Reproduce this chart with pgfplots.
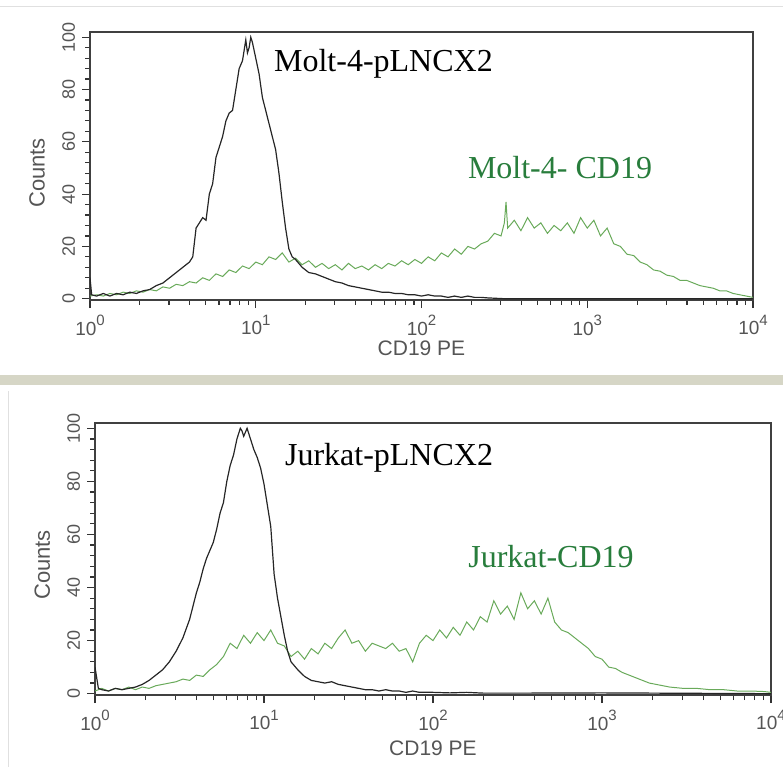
\documentclass[border=0pt]{standalone}
\usepackage{fontspec}
\setmainfont{Liberation Serif}
\setsansfont{Liberation Sans}
\usepackage{pgfplots}
\usepackage{pgfplotstable}
\pgfplotsset{compat=1.18}

\definecolor{curvegreen}{RGB}{105,170,90}
\definecolor{labelgreen}{RGB}{40,125,60}
\definecolor{ticktext}{RGB}{85,85,85}
\definecolor{band}{RGB}{214,214,198}

\newcommand{\dec}[1]{10\raisebox{0.5em}{\fontsize{7.5}{8}\selectfont #1}}

% e = log10 of CD19 PE, c = counts
\pgfplotstableread{
e c
0.00 8
0.01 1.5
0.04 1
0.08 2
0.12 1
0.16 2
0.20 1.5
0.24 2.5
0.28 2
0.32 3
0.36 3.5
0.40 5
0.44 6
0.48 8
0.52 10
0.56 12
0.60 14
0.62 16
0.64 27
0.66 29
0.68 31
0.70 30
0.72 40
0.74 44
0.76 54
0.78 58
0.80 62
0.82 68
0.84 71
0.86 72
0.88 80
0.90 88
0.92 91
0.94 99
0.95 94
0.96 96
0.97 100
0.98 98
1.00 92
1.02 86
1.04 77
1.06 72
1.08 67
1.10 62
1.12 57
1.14 48
1.16 37
1.18 27
1.20 19
1.22 16
1.24 15
1.28 12
1.32 10
1.36 9.5
1.40 8.5
1.44 7.5
1.48 6.5
1.52 6
1.56 5
1.60 4.5
1.64 4
1.68 3.5
1.72 3
1.76 2.5
1.80 2.5
1.84 2
1.88 2
1.92 1.5
1.96 1.5
2.00 1
2.04 1.5
2.08 1
2.12 1
2.16 0.5
2.20 1
2.24 0.5
2.28 1
2.32 0.5
2.36 0.5
2.40 0.3
2.50 0
4.00 0
}\moltctrl

\pgfplotstableread{
e c
0.00 1
0.04 1.5
0.08 1
0.12 2
0.16 1.5
0.20 2.5
0.24 2
0.28 3
0.32 2.5
0.36 3.5
0.40 3
0.44 4.5
0.48 4
0.52 5.5
0.56 5
0.60 6.5
0.64 6
0.68 8
0.72 7
0.76 9.5
0.80 8.5
0.84 11
0.88 10
0.92 12.5
0.96 11.5
1.00 14
1.04 13
1.08 16
1.12 15
1.16 17.5
1.20 14
1.24 15.5
1.28 13
1.32 14.5
1.36 12
1.40 13.5
1.44 11.5
1.48 13
1.52 11
1.56 13.5
1.60 11.5
1.64 12.5
1.68 11
1.72 13
1.76 11.5
1.80 13.5
1.84 12.5
1.88 14.5
1.92 13
1.96 15
2.00 13.5
2.04 16
2.08 14.5
2.12 17.5
2.16 16
2.20 19
2.24 17
2.28 20
2.32 19
2.36 21
2.40 22
2.44 25
2.48 24
2.50 29
2.51 37
2.52 27
2.56 30
2.60 26
2.64 31
2.68 27
2.72 29
2.76 25
2.80 28
2.84 26
2.88 29
2.92 25
2.96 31
3.00 27
3.04 30
3.08 24
3.12 27
3.16 21
3.20 20
3.24 17
3.28 16.5
3.32 14
3.36 13
3.40 11
3.44 10.5
3.48 9
3.52 8.5
3.56 7
3.60 7
3.64 6
3.68 5
3.72 4.5
3.76 4
3.80 3
3.84 3
3.88 2
3.92 1.5
3.96 1
4.00 0.5
}\moltcd

\pgfplotstableread{
e c
0.00 10
0.02 2
0.04 1.5
0.08 1
0.12 2
0.16 1.5
0.20 2
0.24 2.5
0.28 3.5
0.32 5
0.36 7
0.40 9
0.44 12
0.48 16
0.52 21
0.56 28
0.58 33
0.60 38
0.62 42
0.64 47
0.66 51
0.68 54
0.70 57
0.72 62
0.74 68
0.76 72
0.78 80
0.80 86
0.82 90
0.84 96
0.86 100
0.87 99
0.88 97
0.90 100
0.92 96
0.94 92
0.96 89
0.98 85
1.00 79
1.02 71
1.04 63
1.06 45
1.08 36
1.10 29
1.12 22
1.14 16
1.16 12
1.20 9
1.24 6.5
1.28 5
1.32 4.5
1.36 4
1.40 4.5
1.44 3.5
1.48 3
1.52 2.5
1.56 2
1.60 1.5
1.64 1.5
1.68 1
1.72 1.5
1.76 1
1.80 1
1.84 0.5
1.88 1
1.92 0.5
2.00 0.5
2.10 0.3
2.20 0.5
2.30 0.2
2.50 0.2
3.00 0.3
4.00 0
}\jurkctrl

\pgfplotstableread{
e c
0.00 1
0.04 2
0.08 1
0.12 2
0.16 1.5
0.20 2.5
0.24 1.5
0.28 2.5
0.32 2
0.36 3
0.40 3.5
0.44 4
0.48 4.5
0.52 5.5
0.56 5
0.60 7
0.64 6.5
0.68 9
0.72 11
0.76 14
0.80 19
0.84 17
0.88 22
0.92 19
0.96 23
1.00 20
1.04 24
1.08 19
1.12 18
1.16 14
1.20 16
1.24 13
1.28 17
1.32 15
1.36 19
1.40 17
1.44 21
1.48 24
1.52 19
1.56 20
1.60 16
1.64 19
1.68 18
1.72 17
1.76 19
1.80 16
1.84 17
1.88 12
1.92 19
1.96 22
2.00 20
2.04 24
2.08 21
2.12 25
2.16 22
2.20 27
2.24 24
2.28 29
2.32 27
2.36 35
2.40 30
2.44 33
2.48 28
2.52 38
2.56 32
2.60 35
2.64 30
2.68 36
2.72 27
2.76 24
2.80 23
2.84 21
2.88 19
2.92 17
2.96 14
3.00 13
3.04 10
3.08 9.5
3.12 8
3.16 7
3.20 6
3.24 5
3.28 4
3.32 3.5
3.36 3
3.40 2.5
3.48 2
3.56 2
3.64 1.5
3.72 1.5
3.80 1
3.88 1
3.96 0.8
4.00 0.5
}\jurkcd

\tikzset{
  ctrl/.style={black!85, line width=0.6pt},
  cdplot/.style={curvegreen, line width=0.5pt},
}

\begin{document}
\begin{tikzpicture}
\path[use as bounding box] (0,0) rectangle (391.5pt,383.5pt);
\fill[band] (0,191pt) rectangle (391.5pt,196pt);
\draw[black!12, line width=0.5pt] (0,380pt) -- (391.5pt,380pt);
\draw[black!12, line width=0.5pt] (4pt,0) -- (4pt,188pt);

\begin{axis}[
  at={(45pt,233.5pt)}, anchor=south west,
  width=331.5pt, height=134pt,
  scale only axis,
  xmode=log, xmin=1, xmax=10000,
  ymin=-0.5, ymax=102,
  xtick={1,10,100,1000,10000},
  xticklabels={\dec{0},\dec{1},\dec{2},\dec{3},\dec{4}},
  minor xtick={2,3,4,5,6,7,8,9,20,30,40,50,60,70,80,90,200,300,400,500,600,700,800,900,2000,3000,4000,5000,6000,7000,8000,9000},
  ytick={0,20,40,60,80,100},
  minor ytick={4,8,12,16,24,28,32,36,44,48,52,56,64,68,72,76,84,88,92,96},
  tick align=outside,
  xtick pos=left, ytick pos=left,
  major tick length=4pt, minor tick length=2.5pt,
  tick style={black!80, line width=0.6pt},
  axis line style={black!75, line width=0.8pt},
  xticklabel style={font=\sffamily\fontsize{9.5}{10}\selectfont, text=ticktext},
  yticklabel style={rotate=90, anchor=south, font=\sffamily\fontsize{9}{10}\selectfont, text=ticktext, /pgf/number format/assume math mode=true},
  ylabel={Counts},
  ylabel style={font=\sffamily\fontsize{11}{12}\selectfont, text=ticktext, anchor=center, at={(axis description cs:-0.08,0.474)}},
  xlabel={CD19 PE},
  xlabel style={font=\sffamily\fontsize{10.5}{12}\selectfont, text=ticktext, anchor=center, at={(axis description cs:0.5,-0.179)}},
]
\addplot[cdplot] table[x expr={10^\thisrow{e}}, y=c] {\moltcd};
\addplot[ctrl] table[x expr={10^\thisrow{e}}, y=c] {\moltctrl};
\node[anchor=west, font=\fontsize{16}{18}\selectfont] at (axis cs:11.7,90) {Molt-4-pLNCX2};
\node[font=\fontsize{16}{18}\selectfont, text=labelgreen] at (axis cs:685,50) {Molt-4- CD19};
\end{axis}

\begin{axis}[
  at={(47.5pt,36pt)}, anchor=south west,
  width=338pt, height=136pt,
  scale only axis,
  xmode=log, xmin=1, xmax=10000,
  ymin=-0.5, ymax=102,
  xtick={1,10,100,1000,10000},
  xticklabels={\dec{0},\dec{1},\dec{2},\dec{3},\dec{4}},
  minor xtick={2,3,4,5,6,7,8,9,20,30,40,50,60,70,80,90,200,300,400,500,600,700,800,900,2000,3000,4000,5000,6000,7000,8000,9000},
  ytick={0,20,40,60,80,100},
  minor ytick={4,8,12,16,24,28,32,36,44,48,52,56,64,68,72,76,84,88,92,96},
  tick align=outside,
  xtick pos=left, ytick pos=left,
  major tick length=4pt, minor tick length=2.5pt,
  tick style={black!80, line width=0.6pt},
  axis line style={black!75, line width=0.8pt},
  xticklabel style={font=\sffamily\fontsize{9.5}{10}\selectfont, text=ticktext},
  yticklabel style={rotate=90, anchor=south, font=\sffamily\fontsize{9}{10}\selectfont, text=ticktext, /pgf/number format/assume math mode=true},
  ylabel={Counts},
  ylabel style={font=\sffamily\fontsize{11}{12}\selectfont, text=ticktext, anchor=center, at={(axis description cs:-0.078,0.478)}},
  xlabel={CD19 PE},
  xlabel style={font=\sffamily\fontsize{10.5}{12}\selectfont, text=ticktext, anchor=center, at={(axis description cs:0.5,-0.195)}},
]
\addplot[cdplot] table[x expr={10^\thisrow{e}}, y=c] {\jurkcd};
\addplot[ctrl] table[x expr={10^\thisrow{e}}, y=c] {\jurkctrl};
\node[anchor=west, font=\fontsize{16}{18}\selectfont] at (axis cs:12.1,88.8) {Jurkat-pLNCX2};
\node[font=\fontsize{16}{18}\selectfont, text=labelgreen] at (axis cs:499,51.7) {Jurkat-CD19};
\end{axis}
\end{tikzpicture}
\end{document}
